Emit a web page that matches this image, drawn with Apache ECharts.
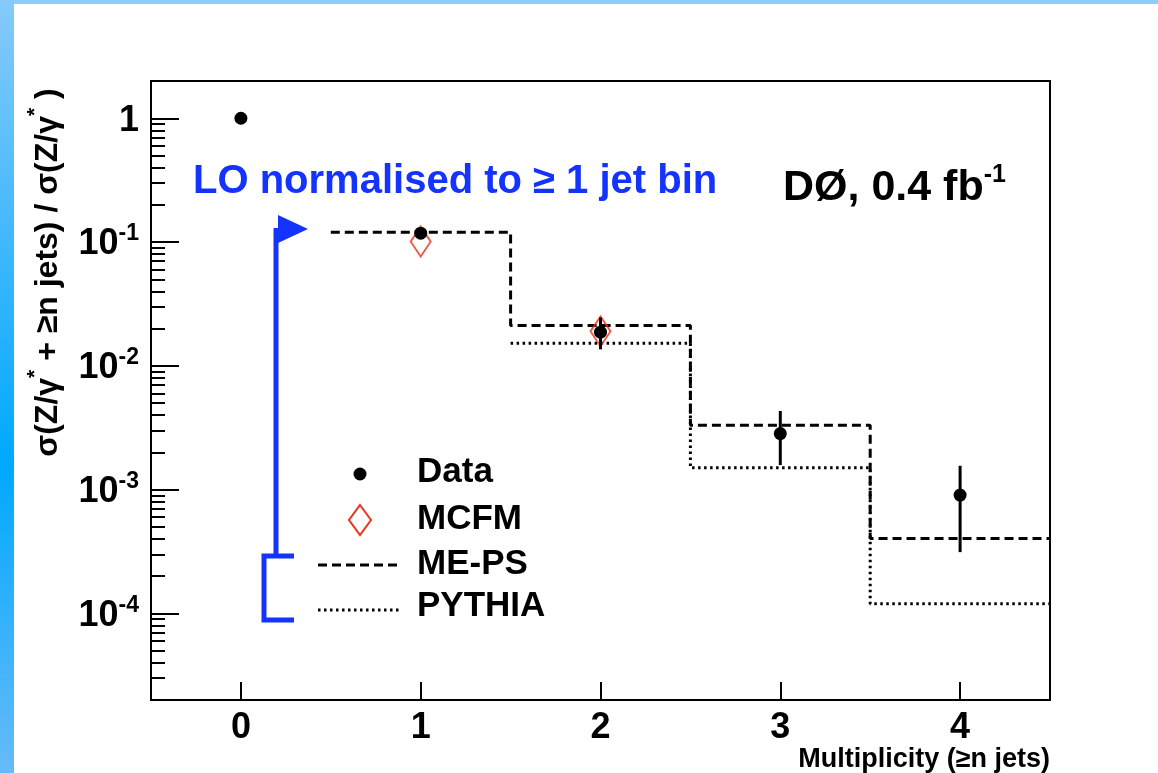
<!DOCTYPE html>
<html><head><meta charset="utf-8">
<script src="https://cdn.jsdelivr.net/npm/echarts@6/dist/echarts.min.js"></script>
<style>html,body{margin:0;padding:0;background:#fff}#c{width:1158px;height:773px}</style>
</head><body><div id="c"></div>
<script>
// ---- data ----
const multiplicity = [0, 1, 2, 3, 4];
const dataValues   = [1.0, 0.118, 0.0187, 0.00284, 0.000905];
const dataErrLow   = [1.0, 0.112, 0.0136, 0.00158, 0.000313];
const dataErrHigh  = [1.0, 0.125, 0.0246, 0.00432, 0.00156];
const mcfmN        = [1, 2];
const mcfmValues   = [0.101, 0.019];
const binLowEdges  = [0.5, 1.5, 2.5, 3.5];
const binHighEdge  = 4.5;
const mepsValues   = [0.12, 0.0212, 0.00332, 0.000403];
const pythiaValues = [null, 0.0152, 0.0015, 0.00012];
const xTickValues  = [0, 1, 2, 3, 4];
const yMajorTicks  = [1e-4, 1e-3, 1e-2, 1e-1, 1];
const yMinorMult   = [2, 3, 4, 5, 6, 7, 8, 9];
const yDecades     = [1e-5, 1e-4, 1e-3, 1e-2, 1e-1, 1];
const Y_MIN = 2e-5, Y_MAX = 2;

const FONT = '"Liberation Sans", Arial, sans-serif';
const BLUE = '#1433ff';
const RED = '#e8341c';

const yMinorTicks = [];
yDecades.forEach(d => yMinorMult.forEach(m => {
  const v = +(d * m).toPrecision(6);
  if (v > Y_MIN && v < Y_MAX) yMinorTicks.push(v);
}));

function stepData(vals) {
  const out = [];
  binLowEdges.forEach((e, i) => { if (vals[i] != null) out.push([e, vals[i]]); });
  out.push([binHighEdge, vals[vals.length - 1]]);
  return out;
}

const chart = echarts.init(document.getElementById('c'), null, {renderer: 'canvas'});

const option = {
  backgroundColor: '#ffffff',
  animation: false,
  grid: {left: 151, right: 108, top: 81, bottom: 73, show: true, borderColor: '#000', borderWidth: 2, backgroundColor: 'transparent'},
  xAxis: {
    type: 'value', min: -0.5, max: 4.5,
    axisLine: {show: true, onZero: false, lineStyle: {color: '#000', width: 2}},
    axisTick: {show: true, inside: true, length: 18, customValues: xTickValues, lineStyle: {color: '#000', width: 2}},
    axisLabel: {customValues: xTickValues, margin: 10, color: '#000', fontSize: 36, fontWeight: 'bold', fontFamily: FONT},
    splitLine: {show: false},
    name: 'Multiplicity (≥n jets)', nameLocation: 'end', nameGap: 0,
    nameTextStyle: {color: '#000', fontSize: 27, fontWeight: 'bold', fontFamily: FONT, align: 'right', verticalAlign: 'top', padding: [46, 0, 0, 0]}
  },
  yAxis: [{
    type: 'log', logBase: 10, min: Y_MIN, max: Y_MAX,
    axisLine: {show: true, onZero: false, lineStyle: {color: '#000', width: 2}},
    axisTick: {show: true, inside: true, length: 28, customValues: yMajorTicks, lineStyle: {color: '#000', width: 2}},
    axisLabel: {
      customValues: yMajorTicks, margin: 12, color: '#000', padding: [5, 0, 0, 0],
      formatter: v => {
        const e = Math.round(Math.log10(v));
        if (Math.abs(Math.log10(v) - e) > 1e-6) return '';
        return e === 0 ? '{b|1}' : '{b|10}{s|-' + (-e) + '}';
      },
      rich: {
        b: {fontSize: 36, fontWeight: 'bold', fontFamily: FONT, color: '#000', lineHeight: 44},
        s: {fontSize: 23, fontWeight: 'bold', fontFamily: FONT, color: '#000', lineHeight: 24, verticalAlign: 'top'}
      }
    },
    splitLine: {show: false},
    name: '{t|σ(Z/γ}{s|*}{t| + ≥n jets) / σ(Z/γ}{s|*}{t| )}',
    nameLocation: 'middle', nameRotate: 90, nameGap: 80,
    nameTextStyle: {
      padding: [0, 0, 0, 236],
      rich: {
        t: {fontSize: 32, fontWeight: 'bold', fontFamily: FONT, color: '#000', lineHeight: 46},
        s: {fontSize: 21, fontWeight: 'bold', fontFamily: FONT, color: '#000', lineHeight: 16, verticalAlign: 'top'}
      }
    }
  }, {
    type: 'log', logBase: 10, min: Y_MIN, max: Y_MAX, position: 'left', offset: 0,
    axisLine: {show: false, onZero: false},
    axisTick: {show: true, inside: true, length: 14, customValues: yMinorTicks, lineStyle: {color: '#000', width: 2}},
    axisLabel: {show: false},
    splitLine: {show: false}
  }],
  series: [
    {
      name: 'PYTHIA', type: 'line', step: 'end', symbol: 'none', z: 2,
      data: stepData(pythiaValues),
      lineStyle: {color: '#000', width: 3, type: [2.5, 3.5]}
    },
    {
      name: 'ME-PS', type: 'line', step: 'end', symbol: 'none', z: 3,
      data: stepData(mepsValues),
      lineStyle: {color: '#000', width: 3, type: [9, 5]}
    },
    {
      name: 'MCFM', type: 'scatter', symbol: 'diamond', symbolSize: [20, 30], z: 4,
      data: mcfmN.map((n, i) => [n, mcfmValues[i]]),
      itemStyle: {color: 'rgba(0,0,0,0)', borderColor: RED, borderWidth: 2}
    },
    {
      name: 'Data', type: 'custom', z: 5, clip: false,
      data: multiplicity.map((n, i) => [n, dataValues[i], dataErrLow[i], dataErrHigh[i]]),
      encode: {x: 0, y: 1},
      renderItem: (params, api) => {
        const x = api.value(0);
        const c = api.coord([x, api.value(1)]);
        const lo = api.coord([x, api.value(2)]);
        const hi = api.coord([x, api.value(3)]);
        const children = [];
        if (Math.abs(lo[1] - hi[1]) > 0.5) {
          children.push({type: 'line', shape: {x1: c[0], y1: hi[1], x2: c[0], y2: lo[1]}, style: {stroke: '#000', lineWidth: 3}});
        }
        children.push({type: 'circle', shape: {cx: c[0], cy: c[1], r: 6.5}, style: {fill: '#000'}});
        return {type: 'group', children};
      }
    }
  ],
  graphic: [
    // slide background strips
    {type: 'rect', z: -10, shape: {x: 0, y: 0, width: 1158, height: 4}, style: {fill: '#8ccdfb'}},
    {type: 'rect', z: -10, shape: {x: 0, y: 0, width: 14, height: 773},
     style: {fill: new echarts.graphic.LinearGradient(0, 0, 0, 1, [
       {offset: 0, color: '#86cafa'}, {offset: 0.6, color: '#00a8ff'}, {offset: 1, color: '#66bbf8'}])}},
    // blue annotation
    {type: 'text', x: 193, y: 182, style: {text: 'LO normalised to ≥ 1 jet bin', fill: BLUE, font: 'bold 40px ' + FONT, textVerticalAlign: 'middle'}},
    {type: 'polyline', shape: {points: [[276, 228], [276, 556]]}, style: {stroke: BLUE, lineWidth: 5, fill: null}},
    {type: 'polygon', shape: {points: [[278, 215], [308, 229], [278, 243]]}, style: {fill: BLUE}},
    {type: 'polyline', shape: {points: [[294, 556], [264, 556], [264, 620], [294, 620]]}, style: {stroke: BLUE, lineWidth: 5, fill: null}},
    // experiment label
    {type: 'text', x: 783, y: 188, style: {
      text: '{m|DØ, 0.4 fb}{s|-1}', textVerticalAlign: 'middle',
      rich: {
        m: {font: 'bold 43px ' + FONT, fill: '#000', lineHeight: 50},
        s: {font: 'bold 25px ' + FONT, fill: '#000', lineHeight: 26, verticalAlign: 'top'}
      }}},
    // legend
    {type: 'circle', shape: {cx: 360, cy: 474, r: 6.5}, style: {fill: '#000'}},
    {type: 'text', x: 417, y: 472, style: {text: 'Data', fill: '#000', font: 'bold 35px ' + FONT, textVerticalAlign: 'middle'}},
    {type: 'polygon', shape: {points: [[360, 505], [371, 520], [360, 535], [349, 520]]}, style: {fill: null, stroke: RED, lineWidth: 2}},
    {type: 'text', x: 417, y: 519, style: {text: 'MCFM', fill: '#000', font: 'bold 35px ' + FONT, textVerticalAlign: 'middle'}},
    {type: 'line', shape: {x1: 318, y1: 565, x2: 400, y2: 565}, style: {stroke: '#000', lineWidth: 3, lineDash: [9, 5]}},
    {type: 'text', x: 417, y: 564, style: {text: 'ME-PS', fill: '#000', font: 'bold 35px ' + FONT, textVerticalAlign: 'middle'}},
    {type: 'line', shape: {x1: 318, y1: 610, x2: 400, y2: 610}, style: {stroke: '#000', lineWidth: 3, lineDash: [2.5, 3.5]}},
    {type: 'text', x: 417, y: 606, style: {text: 'PYTHIA', fill: '#000', font: 'bold 35px ' + FONT, textVerticalAlign: 'middle'}}
  ]
};
chart.setOption(option);
</script>
</body></html>
